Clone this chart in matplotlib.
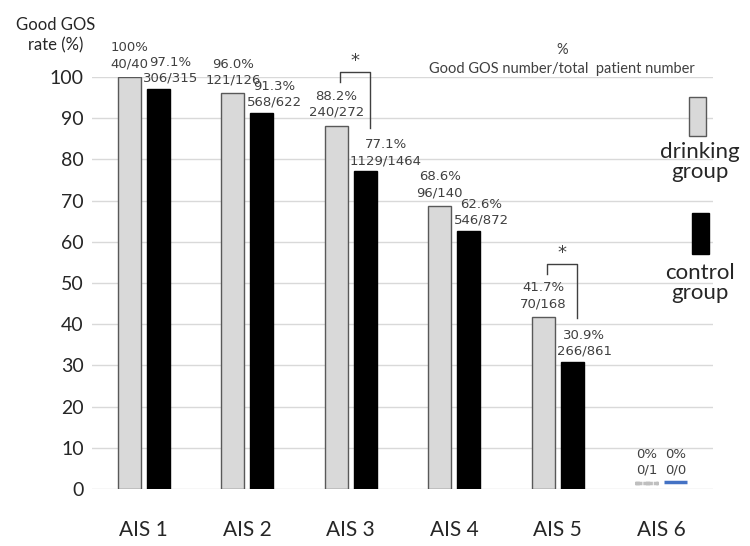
import matplotlib.pyplot as plt
import numpy as np
from matplotlib.patches import Rectangle

# data
categories = ['AIS 1', 'AIS 2', 'AIS 3', 'AIS 4', 'AIS 5', 'AIS 6']
drinking_rate = [100, 96.0, 88.2, 68.6, 41.7, 0]
control_rate = [97.1, 91.3, 77.1, 62.6, 30.9, 0]
drinking_pct = ['100%', '96.0%', '88.2%', '68.6%', '41.7%', '0%']
control_pct = ['97.1%', '91.3%', '77.1%', '62.6%', '30.9%', '0%']
drinking_n = ['40/40', '121/126', '240/272', '96/140', '70/168', '0/1']
control_n = ['306/315', '568/622', '1129/1464', '546/872', '266/861', '0/0']
yticks = [0, 10, 20, 30, 40, 50, 60, 70, 80, 90, 100]

# significance brackets: (category index, left y, right y)
sig_pairs = [(2, 88.2, 77.1), (4, 41.7, 30.9)]

plt.rcParams['font.family'] = ['Lato', 'DejaVu Sans']

fig = plt.figure(figsize=(7.5, 5.46), dpi=100)
ax = fig.add_axes([92/750, 1-489/546, 621/750, 412/546])

x = np.arange(len(categories))
w = 0.225
off = 0.14
light = '#d9d9d9'
txtc = '#404040'

ax.bar(x[:5] - off, drinking_rate[:5], w, color=light, edgecolor='#595959', linewidth=1, zorder=3)
ax.bar(x[:5] + off, control_rate[:5], w, color='black', edgecolor='black', linewidth=1, zorder=3)
# AIS 6 has zero-height bars that show up as thin stubs
ax.bar(x[5] - off, drinking_rate[5], w, bottom=1.4, color='white', edgecolor='#bfbfbf', linewidth=2.5, linestyle=(0, (2, 1)), zorder=3)
ax.bar(x[5] + off, control_rate[5], w, bottom=1.6, color='#4472c4', edgecolor='#4472c4', linewidth=2.5, zorder=3)

ax.set_xlim(-0.5, len(categories) - 0.5)
ax.set_ylim(0, 100)
ax.set_yticks(yticks)
ax.yaxis.grid(True, color='#d9d9d9', linewidth=1, zorder=0)
ax.set_axisbelow(True)
for s in ax.spines.values():
    s.set_visible(False)
ax.tick_params(axis='both', length=0)
ax.tick_params(axis='y', labelsize=14, pad=6, labelcolor='#262626')
ax.set_xticks(x)
ax.set_xticklabels(categories, fontsize=15, color='#262626')
ax.tick_params(axis='x', pad=22)

# value labels
for i in range(len(categories)):
    zero = drinking_rate[i] == 0 and control_rate[i] == 0
    dy = 9 if zero else 5
    ax.annotate(drinking_pct[i] + '\n' + drinking_n[i], (x[i] - off, drinking_rate[i]),
                xytext=(0, dy), textcoords='offset points', ha='center', va='bottom',
                fontsize=9.5, color=txtc, family='DejaVu Sans', linespacing=1.3)
    if not zero:
        xt, ha, dy = x[i] + off - w / 2 - 0.035, 'left', 3
    else:
        xt, ha, dy = x[i] + off, 'center', 9
    ax.annotate(control_pct[i] + '\n' + control_n[i], (xt, control_rate[i]),
                xytext=(0, dy), textcoords='offset points', ha=ha, va='bottom',
                multialignment='center', fontsize=9.5, color=txtc,
                family='DejaVu Sans', linespacing=1.3)

# significance brackets
for i, yl, yr in sig_pairs:
    xl = x[i] - off + 0.04
    xr = x[i] + off + 0.05
    top = yl + 13
    ax.plot([xl, xl, xr, xr], [top - 2.5, top, top, yr + 10.5],
            color='#404040', linewidth=1, clip_on=False)
    ax.text((xl + xr) / 2, top + 0.5, '*', ha='center', va='bottom',
            fontsize=13, color='#404040', family='DejaVu Sans')

# axis caption and header
fig.text(56/750, 1-35/546, 'Good GOS\nrate (%)', ha='center', va='center',
         fontsize=12, color='#262626', linespacing=1.3)
fig.text(562/750, 1-50/546, '%', ha='center', va='center', fontsize=10.5, color=txtc)
fig.text(562/750, 1-69/546, 'Good GOS number/total  patient number', ha='center',
         va='center', fontsize=10.5, color=txtc)

# legend drawn by hand
fig.patches.append(Rectangle((689/750, 1-136/546), 17/750, 39/546, transform=fig.transFigure,
                             facecolor=light, edgecolor='#595959', linewidth=1))
fig.text(700/750, 1-162/546, 'drinking\ngroup', ha='center', va='center', fontsize=16,
         color='#262626', linespacing=0.95)
fig.patches.append(Rectangle((692/750, 1-254/546), 17/750, 41/546, transform=fig.transFigure,
                             facecolor='black', edgecolor='black', linewidth=1))
fig.text(700/750, 1-283/546, 'control\ngroup', ha='center', va='center', fontsize=16,
         color='#262626', linespacing=0.95)

fig.savefig('out.png', dpi=100)
